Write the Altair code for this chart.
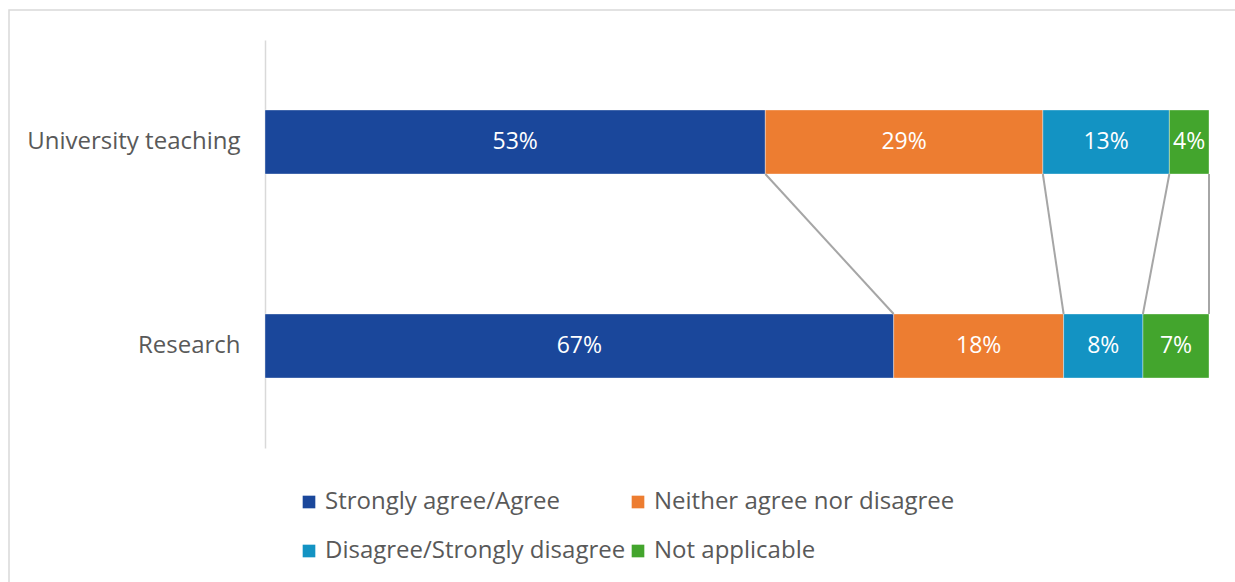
import altair as alt
import pandas as pd

categories = ["University teaching", "Research"]
responses = ["Strongly agree/Agree", "Neither agree nor disagree",
             "Disagree/Strongly disagree", "Not applicable"]
colors = ["#1A479B", "#ED7D31", "#1393C3", "#43A52D"]
teaching_values = [53.0, 29.4, 13.4, 4.2]
research_values = [66.6, 18.0, 8.4, 7.0]

rows = []
for cat, vals in zip(categories, [teaching_values, research_values]):
    cum = 0.0
    for resp, v in zip(responses, vals):
        rows.append({"category": cat, "response": resp, "value": v,
                     "start": cum, "end": cum + v})
        cum += v
df = pd.DataFrame(rows)

top_ends = df[df.category == categories[0]]["end"].tolist()
bot_ends = df[df.category == categories[1]]["end"].tolist()
conn = pd.DataFrame({"x": top_ends, "x2": bot_ends})

FONT = "Open Sans"
TXT = "#595959"

x_scale = alt.Scale(domain=[0, 100], nice=False, zero=False)
y_scale = alt.Scale(domain=categories, paddingInner=0.686, paddingOuter=0.343)

frame = alt.Chart(pd.DataFrame({"a": [0]})).mark_rect(
    fill="transparent", stroke="#D9D9D9", strokeWidth=1.5, clip=False
).encode(x=alt.value(-256), x2=alt.value(1300), y=alt.value(-30), y2=alt.value(700))

bars = alt.Chart(df).mark_bar(stroke="white", strokeWidth=0.6, strokeOpacity=0.6).encode(
    x=alt.X("start:Q", scale=x_scale, axis=None),
    x2="end:Q",
    y=alt.Y("category:N", scale=y_scale, sort=categories, title=None,
            axis=alt.Axis(domainColor="#D9D9D9", domainWidth=1.5, ticks=False,
                          labelFontSize=24, labelColor=TXT, labelFont=FONT,
                          labelPadding=25, labelLimit=300, grid=False)),
    color=alt.Color("response:N", scale=alt.Scale(domain=responses, range=colors),
                    sort=responses, title=None,
                    legend=alt.Legend(orient="none", legendX=32, legendY=450,
                                      columns=2, direction="horizontal",
                                      symbolType="square", symbolSize=160,
                                      symbolStrokeWidth=0,
                                      labelFontSize=24, labelColor=TXT, labelFont=FONT,
                                      labelOffset=4, rowPadding=25, columnPadding=0,
                                      padding=0, labelLimit=400)),
)

labels = alt.Chart(df).transform_calculate(
    mid="(datum.start + datum.end) / 2",
    lab="format(datum.value, '.0f') + '%'"
).mark_text(color="white", fontSize=23, font=FONT).encode(
    x=alt.X("mid:Q", scale=x_scale),
    y=alt.Y("category:N", scale=y_scale, sort=categories),
    text="lab:N",
)

connectors = alt.Chart(conn).mark_rule(color="#A6A6A6", strokeWidth=2,
                                        yOffset=32, y2Offset=-32).encode(
    x=alt.X("x:Q", scale=x_scale),
    x2="x2:Q",
    y=alt.datum(categories[0]),
    y2=alt.datum(categories[1]),
)

chart = alt.layer(frame, bars, connectors, labels).properties(
    width=944, height=408,
    autosize=alt.AutoSizeParams(type="none"),
    padding={"left": 265, "top": 40, "right": 26, "bottom": 134},
    background="white",
).configure_view(stroke=None).configure_legend(labelFont=FONT)

chart.save("out.html", embed_options={"renderer": "svg", "actions": False})
